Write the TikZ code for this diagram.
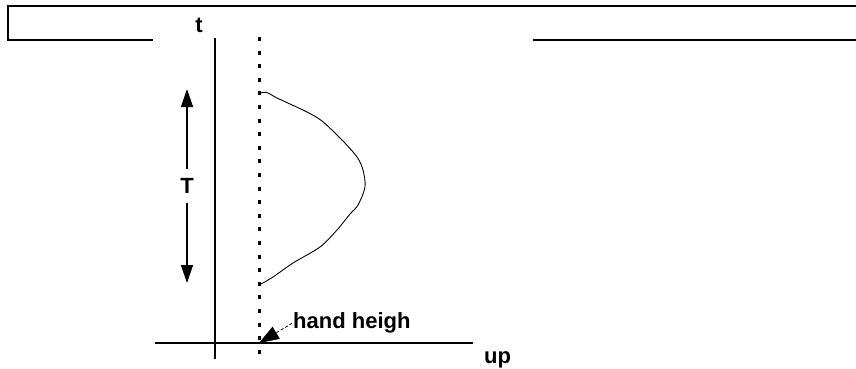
\documentclass[tikz,border=0pt]{standalone}
\usepackage{fontspec}
\setmainfont{Liberation Sans}
\usetikzlibrary{arrows.meta}
\begin{document}
\begin{tikzpicture}[x=1pt,y=-1pt,
  lbl/.style={font=\fontsize{22}{24}\selectfont\bfseries, inner sep=0pt},
  axis/.style={line width=1.4pt},
  frame/.style={line width=1.3pt},
  bigtip/.style={-{Triangle[length=18pt,width=12pt]}, line width=1.3pt}]
\useasboundingbox (0,0) rectangle (856,369);
% frame
\draw[frame] (153,40) -- (8,40) -- (8,6) -- (856,6);
\draw[frame] (533,40) -- (856,40);
% axes
\coordinate (vtop) at (215,38);
\coordinate (vbot) at (215,359);
\coordinate (hl) at (155,343);
\coordinate (hr) at (473,343);
\draw[axis] (vtop) -- (vbot);
\draw[axis] (hl) -- (hr);
\node[lbl] (tl) at (199,25) {t};
\node[lbl, anchor=base west] (upl) at (484,363) {up};
% dotted line
\coordinate (dtop) at (259,37);
\coordinate (dbot) at (259,356);
\draw[line width=3pt, dash pattern=on 4pt off 9.6pt] (dtop) -- (dbot);
% curve
\draw[line width=0.9pt] plot[smooth, tension=0.5] coordinates {
 (260,93) (267,92.5) (275,97) (290,104) (307,112) (322,121) (342,140)
 (357,157) (363,170) (365,187) (358,205) (350,214) (337,230) (320,247)
 (293,263) (273,277) (261,284)};
% T arrow
\node[lbl] (Tl) at (187,186) {T};
\coordinate (Ttop) at (187,89);
\coordinate (Tbot) at (187,283);
\draw[bigtip] ([yshift=9pt]Tl.north) -- (Ttop);
\draw[bigtip] ([yshift=-9pt]Tl.south) -- (Tbot);
% hand heigh
\node[lbl, anchor=base west] (hand) at (293,328) {hand heigh};
\coordinate (htip) at (259,343);
\draw[line width=0.8pt, densely dashed, -{Triangle[length=20pt,width=14pt]}] ([xshift=-1pt,yshift=-1pt]hand.west) -- (htip);
\end{tikzpicture}
\end{document}
